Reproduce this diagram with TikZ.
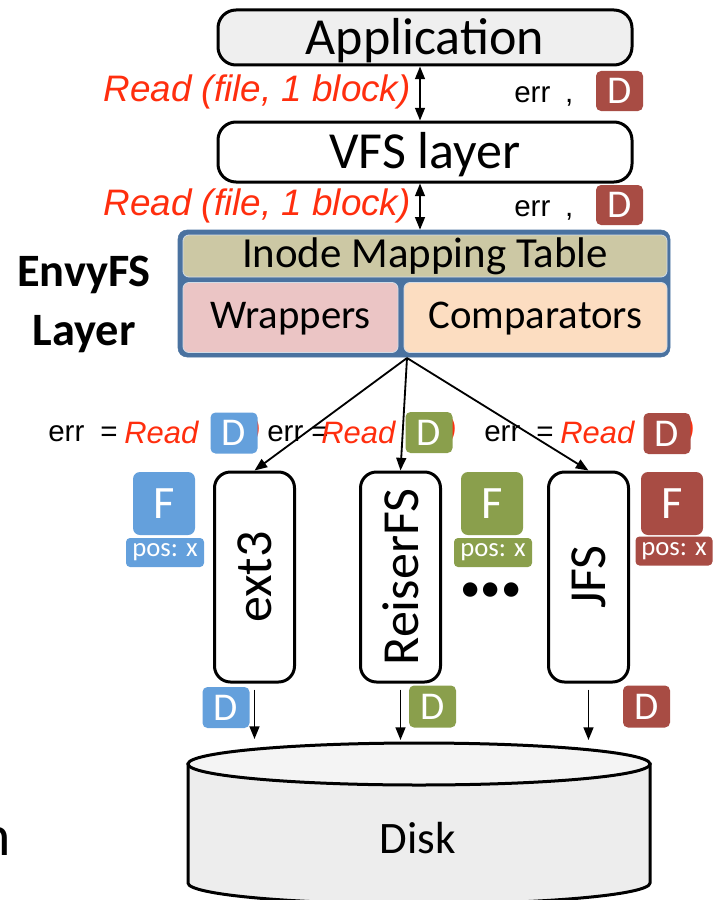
\documentclass[tikz,border=0pt]{standalone}
\usepackage{fontspec}
\setmainfont{Carlito}
\newfontfamily\arialfont{Liberation Sans}
\usetikzlibrary{positioning,arrows.meta,shapes.geometric}
\definecolor{appgray}{HTML}{EFEFEF}
\definecolor{envyblue}{HTML}{4A72A0}
\definecolor{inodetan}{HTML}{CCC8A4}
\definecolor{wrappink}{HTML}{EBC5C5}
\definecolor{comppeach}{HTML}{FCDDC1}
\definecolor{dblue}{HTML}{64A0DC}
\definecolor{dgreen}{HTML}{8A9F4C}
\definecolor{dred}{HTML}{A84C44}
\definecolor{readred}{HTML}{FF2E0E}
\definecolor{diskgray}{HTML}{EDEDED}
\definecolor{disktop}{HTML}{F4F4F4}
\newlength{\px}
\setlength{\px}{0.025cm}
\tikzset{
  every node/.style={inner sep=0pt},
  layerbox/.style={
    rectangle, rounded corners=18\px,
    draw=black, line width=3\px,
    minimum width=414\px,
    font=\fontsize{37}{40}\selectfont
  },
  fsbox/.style={
    rectangle, rounded corners=16\px,
    draw=black, line width=3\px, fill=white,
    minimum width=80\px, minimum height=210\px,
    font=\fontsize{37}{40}\selectfont
  },
  innerbox/.style={
    rectangle, rounded corners=6\px,
    draw=white!75!envyblue, line width=0.8\px,
    font=\fontsize{29}{32}\selectfont
  },
  dtag/.style={
    rectangle, rounded corners=5\px, fill=#1, text=white,
    minimum width=47\px, minimum height=40\px,
    font=\fontsize{28}{30}\selectfont
  },
  ftag/.style={
    rectangle, rounded corners=7\px, fill=#1, text=white,
    minimum width=62\px, minimum height=63\px,
    font=\fontsize{33}{36}\selectfont
  },
  postag/.style={
    rectangle, rounded corners=4\px, fill=#1, text=white,
    minimum width=78\px, minimum height=29\px,
    font=\fontsize{19}{21}\selectfont
  },
  readlbl/.style={
    text=readred, font=\arialfont\itshape\fontsize{26.2}{28}\selectfont
  },
  readsm/.style={
    text=readred, font=\arialfont\itshape\fontsize{22}{24}\selectfont
  },
  errlbl/.style={
    font=\arialfont\fontsize{21}{23}\selectfont
  },
  arrow/.style={
    -{Triangle[length=9pt,width=7pt]}, line width=1.3pt
  },
  dblarrow/.style={
    {Triangle[length=9pt,width=7pt]}-{Triangle[length=9pt,width=7pt]},
    line width=1.3pt
  },
}
\begin{document}
\begin{tikzpicture}[x=0.025cm, y=-0.025cm]
  \useasboundingbox (0,0) rectangle (723,900);
  % top layers
  \node[layerbox, fill=appgray, minimum height=55\px, text depth=0.35ex] (app) at (425,37.5) {Application};
  \node[layerbox, fill=white, minimum height=60\px, text depth=0.35ex] (vfs) at (425,152) {VFS layer};
  % EnvyFS layer
  \node[rectangle, rounded corners=9\px, fill=envyblue, draw=envyblue,
        minimum width=492\px, minimum height=127\px] (envy) at (424,293.5) {};
  \node[innerbox, fill=inodetan, minimum width=484\px, minimum height=42\px,
        font=\fontsize{30.5}{32}\selectfont] (inode) at (425,256) {Inode Mapping Table};
  \node[innerbox, fill=wrappink, minimum width=215\px, minimum height=70\px, text depth=0.6ex] (wrap) at (290.5,317.5) {Wrappers};
  \node[innerbox, fill=comppeach, minimum width=263\px, minimum height=70\px, text depth=0.6ex] (comp) at (535.5,317.5) {Comparators};
  \node[align=center, font=\bfseries\fontsize{33}{42}\selectfont] (envylbl) at (84,304) {EnvyFS\\Layer};
  % calls between layers
  \draw[dblarrow] ([xshift=-0.125cm]app.south) -- ([xshift=-0.125cm]vfs.north);
  \draw[dblarrow] ([xshift=-0.125cm]vfs.south) -- ([xshift=-0.1cm]envy.north);
  \node[readlbl, anchor=east] (rd1) at (411,92) {Read (file, 1 block)};
  \node[readlbl, anchor=east] (rd2) at (411,206) {Read (file, 1 block)};
  \node[errlbl, anchor=west] (err1) at (514,96) {err\,\,\,,};
  \node[errlbl, anchor=west] (err2) at (514,210) {err\,\,\,,};
  \node[dtag=dred] (dtop1) at (619.5,91) {D};
  \node[dtag=dred] (dtop2) at (619.5,205) {D};
  % file systems
  \node[fsbox] (ext3) at (254.5,577) {\rotatebox{90}{ext3}};
  \node[fsbox] (reiser) at (400.5,577) {\rotatebox{90}{ReiserFS}};
  \node[fsbox] (jfs) at (588.5,577) {\rotatebox{90}{JFS}};
  \coordinate (fork) at (407,358);
  \draw[arrow] (fork) -- (ext3.north);
  \draw[arrow] (fork) -- (reiser.north);
  \draw[arrow] (fork) -- (jfs.north);
  % per-fs reads
  \node[errlbl, anchor=west] (erra) at (48,434) {err};
  \node[errlbl, anchor=west] (eqa) at (100,434) {=};
  \node[readsm, anchor=west] (rda) at (124,432) {Read};
  \node[readsm, anchor=west] (para) at (250,432) {)};
  \node[dtag=dblue, minimum height=41\px] (da) at (234,433) {D};
  \node[errlbl, anchor=west] (errb) at (267,434) {err};
  \node[errlbl, anchor=west] (eqb) at (311,434) {=};
  \node[readsm, anchor=west] (rdb) at (321,432) {Read};
  \node[readsm, anchor=west] (parb) at (446,432) {)};
  \node[dtag=dgreen, minimum height=41\px] (db) at (429,432.5) {D};
  \node[errlbl, anchor=west] (errc) at (484,434) {err};
  \node[errlbl, anchor=west] (eqc) at (536,434) {=};
  \node[readsm, anchor=west] (rdc) at (560,432) {Read};
  \node[readsm, anchor=west] (parc) at (684,432) {)};
  \node[dtag=dred, minimum height=41\px] (dc) at (667,433.5) {D};
  % file and position tags
  \node[ftag=dblue] (fa) at (164,503.5) {F};
  \node[postag=dblue] (posa) at (165,552.5) {pos: x};
  \node[ftag=dgreen] (fb) at (492,503.5) {F};
  \node[postag=dgreen] (posb) at (493,552.5) {pos: x};
  \node[ftag=dred] (fc) at (672,503.5) {F};
  \node[postag=dred, minimum width=77\px] (posc) at (674,551) {pos: x};
  \node[font=\fontsize{29}{32}\selectfont] (dots) at (491,592) {\textbullet\textbullet\textbullet};
  % disk
  \draw[fill=diskgray, line width=3\px] (188,764) -- (188,883)
    arc[start angle=180, end angle=0, x radius=231, y radius=21] -- (650,764) -- cycle;
  \draw[fill=disktop, line width=3\px] (419,764) ellipse [x radius=231, y radius=21];
  \node[font=\fontsize{32}{34}\selectfont] (disk) at (418,838) {Disk};
  \coordinate (ina) at (254.5,739);
  \coordinate (inb) at (400.5,740);
  \coordinate (inc) at (588.5,740);
  \draw[arrow] ([yshift=-0.15cm]ext3.south) -- (ina);
  \draw[arrow] ([yshift=-0.15cm]reiser.south) -- (inb);
  \draw[arrow] ([yshift=-0.15cm]jfs.south) -- (inc);
  \node[dtag=dblue, minimum height=41\px] (dwa) at (226,707.5) {D};
  \node[dtag=dgreen, minimum height=42\px] (dwb) at (432.5,706.5) {D};
  \node[dtag=dred, minimum height=42\px] (dwc) at (646.5,706.5) {D};
  \node[anchor=base east, font=\fontsize{41}{45}\selectfont] (cut) at (11,855) {n};
\end{tikzpicture}
\end{document}
